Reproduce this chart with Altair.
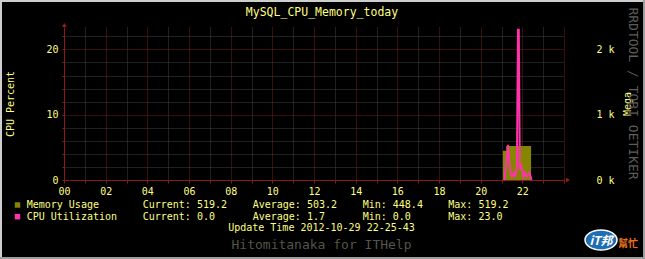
import altair as alt
import pandas as pd

# ---------------- data ----------------
chart_title = "MySQL_CPU_Memory_today"
hour_ticks = list(range(0, 25))
cpu_ticks = list(range(0, 23, 2))
mem_ticks = [0, 1000, 2000]

mem_hours = [21.07, 21.23, 22.42]
mem_values = [448.4, 519.2, 519.2]

cpu_hours = [21.12, 21.16, 21.21, 21.31, 21.38, 21.43, 21.51, 21.60, 21.67, 21.74,
             21.79, 21.83, 21.88, 21.95, 22.05, 22.12, 22.20, 22.28, 22.34, 22.40, 22.44]
cpu_values = [0.0, 0.3, 2.1, 5.4, 2.6, 1.1, 0.5, 1.1, 0.5, 2.1,
              23.0, 23.0, 1.6, 2.1, 0.5, 1.1, 0.5, 0.8, 1.1, 0.5, 0.0]

legend_names = ["Memory Usage", "CPU Utilization"]
legend_colors = ["#858500", "#ff33aa"]
legend_current = ["519.2", "0.0"]
legend_average = ["503.2", "1.7"]
legend_min = ["448.4", "0.0"]
legend_max = ["519.2", "23.0"]
update_text = "Update Time 2012-10-29 22-25-43"
credit_text = "Hitomitanaka for ITHelp"
watermark_text = "RRDTOOL / TOBI OETIKER"
left_title = "CPU Percent"
right_title = "Mega"

# ---------------- style ----------------
FONT = "DejaVu Sans Mono"
YEL = "#ffff80"
RED = "#8a1a1a"
GRIDRED = "#701c1c"
GRIDGRAY = "#404040"
W, H = 500, 153


def txt(s, x, y, size=10, color=YEL, align="left", angle=0, font=FONT, weight="normal", italic=False):
    return alt.Chart(pd.DataFrame({"t": [s]})).mark_text(
        font=font, fontSize=size, color=color, align=align, baseline="middle",
        angle=angle, fontWeight=weight, fontStyle="italic" if italic else "normal"
    ).encode(text="t:N", x=alt.value(x), y=alt.value(y))


def rule(x, x2, y, y2, color, width=2):
    return alt.Chart(pd.DataFrame({"k": [0]})).mark_rule(color=color, strokeWidth=width).encode(
        x=alt.value(x), x2=alt.value(x2), y=alt.value(y), y2=alt.value(y2))


x_axis = alt.Axis(
    values=hour_ticks,
    labelExpr="datum.value % 2 == 0 && datum.value < 24 ? (datum.value < 10 ? '0' + datum.value : '' + datum.value) : ''",
    grid=True,
    gridColor={"condition": {"test": "datum.value % 2 == 0", "value": GRIDRED}, "value": GRIDGRAY},
    gridDash=[1, 1], domainColor=RED, tickColor=RED, tickSize=3, labelPadding=3,
    labelFont=FONT, labelFontSize=10, labelColor=YEL, title=None,
    labelFlush=False, labelOverlap=False,
)
x_enc = alt.X("hour:Q", scale=alt.Scale(domain=[0, 24], nice=False), axis=x_axis)

mem_df = pd.DataFrame({"hour": mem_hours, "mem": mem_values})
mem_area = alt.Chart(mem_df).mark_area(color=legend_colors[0], interpolate="step-after", opacity=1).encode(
    x=x_enc,
    y=alt.Y("mem:Q", scale=alt.Scale(domain=[0, 2343], nice=False),
            axis=alt.Axis(orient="right", values=mem_ticks, labelExpr="(datum.value / 1000) + ' k'",
                          grid=False, domain=False, ticks=False, labelPadding=32, labelAlign="left",
                          labelFont=FONT, labelFontSize=10, labelColor=YEL, title=None)),
)

cpu_df = pd.DataFrame({"hour": cpu_hours, "cpu": cpu_values})
cpu_line = alt.Chart(cpu_df).mark_line(color=legend_colors[1], strokeWidth=2).encode(
    x=x_enc,
    y=alt.Y("cpu:Q", scale=alt.Scale(domain=[0, 23.43], nice=False),
            axis=alt.Axis(orient="left", values=cpu_ticks,
                          labelExpr="datum.value % 10 == 0 ? datum.value : ''",
                          grid=True,
                          gridColor={"condition": {"test": "datum.value % 10 == 0", "value": GRIDRED}, "value": GRIDGRAY},
                          gridDash=[1, 1], domainColor=RED, tickColor=RED, tickSize=2, labelPadding=4,
                          labelFont=FONT, labelFontSize=10, labelColor=YEL, title=None, labelFlush=False)),
)

layers = []
# bevelled border
layers.append(rule(-64, 581, -26, -26, "#cecece"))
layers.append(rule(-63, -63, -27, 232, "#cecece"))
layers.append(rule(-64, 581, 231, 231, "#9e9e9e"))
layers.append(rule(580, 580, -27, 232, "#9e9e9e"))

layers += [mem_area, cpu_line]

# axis arrows
layers.append(alt.Chart(pd.DataFrame({"k": [0]})).mark_point(shape="triangle-up", filled=True, color="#a01818", size=22, opacity=1).encode(
    x=alt.value(0.3), y=alt.value(-2)))
layers.append(alt.Chart(pd.DataFrame({"k": [0]})).mark_point(shape="triangle-right", filled=True, color="#a01818", size=22, opacity=1).encode(
    x=alt.value(504), y=alt.value(153)))

# titles
layers.append(txt(chart_title, 258, -14, size=11.5, align="center"))
layers.append(txt(left_title, -53, 77, align="center", angle=270))
layers.append(txt(right_title, 563.5, 77, align="center", angle=270))
layers.append(txt(watermark_text, 569, 66.5, size=13, color="#5e5e5e", align="center", angle=90))

# legend
cols = [(legend_names, -37.3, ""), (legend_current, 78.7, "Current: "), (legend_average, 188.7, "Average: "),
        (legend_min, 298.7, "Min: "), (legend_max, 384.3, "Max: ")]
for i in range(2):
    yy = 178 + i * 11.7
    layers.append(alt.Chart(pd.DataFrame({"k": [0]})).mark_square(color=legend_colors[i], size=30, opacity=1).encode(
        x=alt.value(-46.5), y=alt.value(yy)))
    for arr, xx, prefix in cols:
        layers.append(txt(prefix + arr[i], xx, yy))
layers.append(txt(update_text, 257.5, 201.3, align="center"))
layers.append(txt(credit_text, 257.5, 218, size=13, color="#55554a", align="center"))

# IT logo
ellipse = "M-1.6,0 A1.6,1,0,1,0,1.6,0 A1.6,1,0,1,0,-1.6,0 Z"
layers.append(alt.Chart(pd.DataFrame({"k": [0]})).mark_point(shape=ellipse, filled=True, color="#1f6db3", size=400, opacity=1,
                                                            stroke="#ffffff", strokeWidth=1.5).encode(
    x=alt.value(537), y=alt.value(213)))
layers.append(txt("iT邦", 537, 214, size=12, color="#ffffff", align="center", font="Noto Sans CJK TC", weight="bold", italic=True))
layers.append(txt("幫忙", 564, 217, size=10, color="#e8701a", align="center", font="Noto Sans CJK TC", weight="bold"))

chart = alt.layer(*layers).resolve_scale(y="independent").properties(
    width=W, height=H,
    padding={"left": 64, "top": 27, "right": 81, "bottom": 79},
    autosize=alt.AutoSizeParams(type="none"),
    background="#000000",
).configure_view(stroke=None)

chart.save("out.html", embed_options={"renderer": "svg", "actions": False})
